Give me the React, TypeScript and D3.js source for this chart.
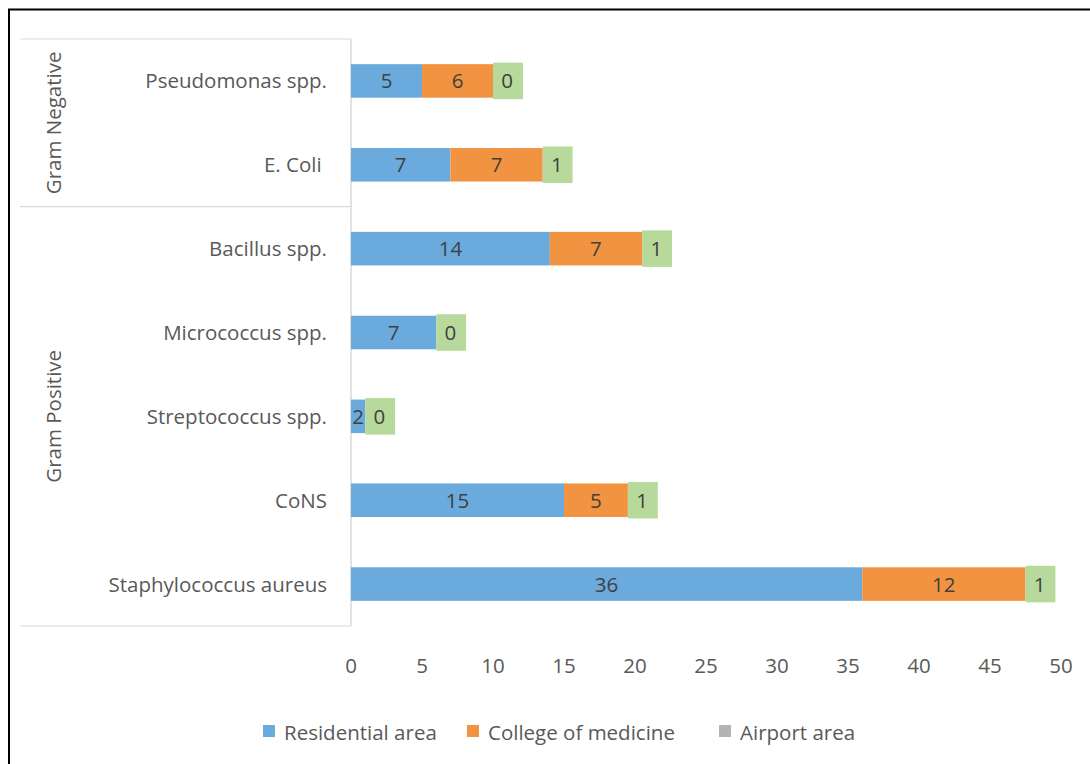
import React from "react";
import * as d3 from "d3";

const categories = [
  "Pseudomonas spp.",
  "E. Coli\u00a0",
  "Bacillus spp.",
  "Micrococcus spp.",
  "Streptococcus spp.",
  "CoNS",
  "Staphylococcus aureus",
];
const groups = [
  { name: "Gram Negative", from: 0, to: 1 },
  { name: "Gram Positive", from: 2, to: 6 },
];
const seriesNames = ["Residential area", "College of medicine", "Airport area"];
// drawn segment lengths
const residentialBar = [5, 7, 14, 6, 1, 15, 36];
const collegeBar = [5, 6.5, 6.5, 0, 0, 4.5, 11.5];
const airportBar = [2, 2, 2, 2, 2, 2, 2];
// data labels shown on the picture
const residentialLabel = ["5", "7", "14", "7", "2", "15", "36"];
const collegeLabel = ["6", "7", "7", "", "", "5", "12"];
const airportLabel = ["0", "1", "1", "0", "0", "1", "1"];
const xTicks = [0, 5, 10, 15, 20, 25, 30, 35, 40, 45, 50];

const barColors = ["#6aaadc", "#f29341", "#b8d99c"];
const legendColors = ["#6aaadc", "#f29341", "#b3b3b3"];
const FONT = "'Open Sans', 'Noto Sans', sans-serif";
const FS = 20.5;

export default function App() {
  const W = 1090;
  const H = 764;
  const x = d3.scaleLinear().domain([0, 50]).range([351, 1061]);
  const y = d3
    .scaleBand<string>()
    .domain(categories)
    .range([39, 626])
    .paddingInner(0.6)
    .paddingOuter(0.3);
  const step = y.step();
  const top0 = 39;
  const bw = y.bandwidth();

  const bars = [residentialBar, collegeBar, airportBar];
  const labels = [residentialLabel, collegeLabel, airportLabel];

  const segs: React.ReactNode[] = [];
  categories.forEach((c, i) => {
    let acc = 0;
    bars.forEach((arr, s) => {
      const v = arr[i];
      const x0 = x(acc);
      const x1 = x(acc + v);
      acc += v;
      if (v <= 0) return;
      const extra = s === 2 ? 1.5 : 0;
      const yy = (y(c) as number) - extra;
      segs.push(
        <rect
          key={`r${i}-${s}`}
          x={x0}
          y={yy}
          width={x1 - x0 + (s === 2 ? 1.5 : 0)}
          height={bw + extra * 2}
          fill={barColors[s]}
        />
      );
      const lab = labels[s][i];
      if (lab !== "") {
        segs.push(
          <text
            key={`t${i}-${s}`}
            x={(x0 + x1) / 2}
            y={(y(c) as number) + bw / 2 + 7.5}
            textAnchor="middle"
            fontSize={FS}
            fontFamily={FONT}
            fill="#404040"
          >
            {lab}
          </text>
        );
      }
    });
  });

  const legendX = [263, 467, 719];

  return (
    <svg
      width={W}
      height={H}
      style={{ position: "absolute", left: 0, top: 0, background: "#fff" }}
    >
      <rect x={0} y={0} width={W} height={H} fill="#fff" />
      {/* outer frame */}
      <line x1={8} y1={9.5} x2={W} y2={9.5} stroke="#000" strokeWidth={2} />
      <line x1={9} y1={9} x2={9} y2={H} stroke="#000" strokeWidth={2} />

      {/* category axis box lines */}
      <line x1={351} y1={top0} x2={351} y2={626} stroke="#d9d9d9" strokeWidth={1.5} />
      <line x1={20} y1={top0} x2={351} y2={top0} stroke="#d9d9d9" strokeWidth={1.2} />
      {groups.map((g) => {
        const yb = top0 + (g.to + 1) * step;
        return (
          <line key={`gl-${g.name}`} x1={20} y1={yb} x2={351} y2={yb} stroke="#d9d9d9" strokeWidth={1.2} />
        );
      })}
      {groups.map((g) => {
        const cy = top0 + ((g.from + g.to + 1) / 2) * step;
        return (
          <text
            key={`g-${g.name}`}
            transform={`translate(61,${cy}) rotate(-90)`}
            textAnchor="middle"
            fontSize={FS}
            fontFamily={FONT}
            fill="#595959"
          >
            {g.name}
          </text>
        );
      })}
      {categories.map((c) => (
        <text
          key={`c-${c}`}
          x={327}
          y={(y(c) as number) + bw / 2 + 7.5}
          textAnchor="end"
          fontSize={FS}
          fontFamily={FONT}
          fill="#595959"
        >
          {c}
        </text>
      ))}

      {segs}

      {xTicks.map((t) => (
        <text
          key={`x-${t}`}
          x={x(t)}
          y={672.5}
          textAnchor="middle"
          fontSize={FS}
          fontFamily={FONT}
          fill="#595959"
        >
          {t}
        </text>
      ))}

      {seriesNames.map((n, i) => (
        <g key={`l-${n}`}>
          <rect x={legendX[i]} y={725} width={12} height={12} fill={legendColors[i]} />
          <text
            x={legendX[i] + 21}
            y={739.5}
            fontSize={FS}
            fontFamily={FONT}
            fill="#595959"
          >
            {n}
          </text>
        </g>
      ))}
    </svg>
  );
}
